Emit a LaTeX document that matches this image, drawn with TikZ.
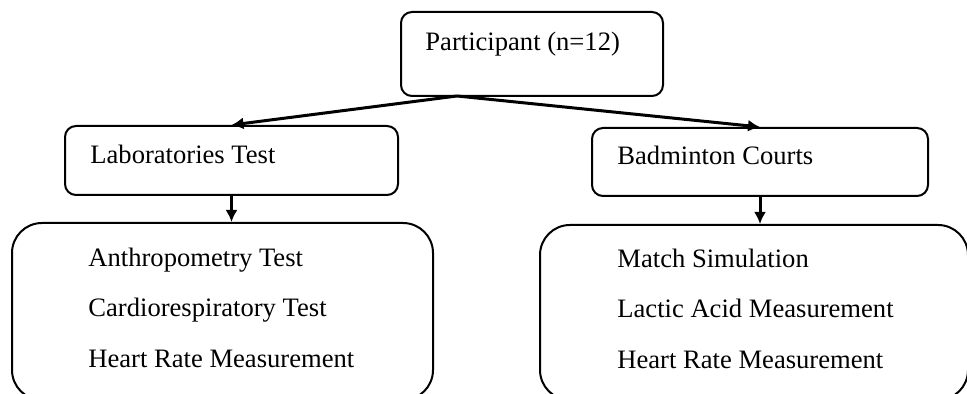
\documentclass[tikz,border=0pt]{standalone}
\usepackage{fontspec}
\setmainfont{Liberation Serif}
\usetikzlibrary{arrows.meta}

\begin{document}
\begin{tikzpicture}[x=0.5pt,y=-0.5pt,
  box/.style={draw,line width=1pt,rounded corners=5.5pt,inner sep=0pt},
  bigbox/.style={draw,line width=1pt,rounded corners=15pt,inner sep=0pt},
  txt/.style={anchor=base west,inner sep=0pt,font=\fontsize{13.3}{16}\selectfont},
  arr/.style={line width=1.5pt,-{Latex[length=6pt,width=6pt]}}]
\useasboundingbox (0,0) rectangle (967,394);
\node[box,minimum width=131pt,minimum height=42pt](part) at (532,54){};
\node[txt](parttxt) at (425,51){Participant (n=12)};
\node[box,minimum width=166.5pt,minimum height=34.5pt](lab) at (231.5,160.5){};
\node[txt](labtxt) at (90,164){Laboratories Test};
\node[box,minimum width=168pt,minimum height=34pt](court) at (760,162){};
\node[txt](courttxt) at (617,165){Badminton Courts};
\node[bigbox,minimum width=210.5pt,minimum height=88.5pt](labset) at (222.5,311.5){};
\node[txt](anthro) at (88,267){Anthropometry Test};
\node[txt](cardio) at (88,317){Cardiorespiratory Test};
\node[txt](hrlab) at (88,368){Heart Rate Measurement};
\node[bigbox,minimum width=214pt,minimum height=87.5pt](courtset) at (754,312.5){};
\node[txt](match) at (617,268){Match Simulation};
\node[txt](lactic) at (617,318){Lactic Acid Measurement};
\node[txt](hrcourt) at (617,369){Heart Rate Measurement};
\coordinate(split) at (457,96);
\draw[arr](split)--(lab.north);
\draw[arr](split)--(court.north);
\draw[arr](lab.south)--(lab.south|-labset.north);
\draw[arr](court.south)--(court.south|-courtset.north);
\end{tikzpicture}
\end{document}
